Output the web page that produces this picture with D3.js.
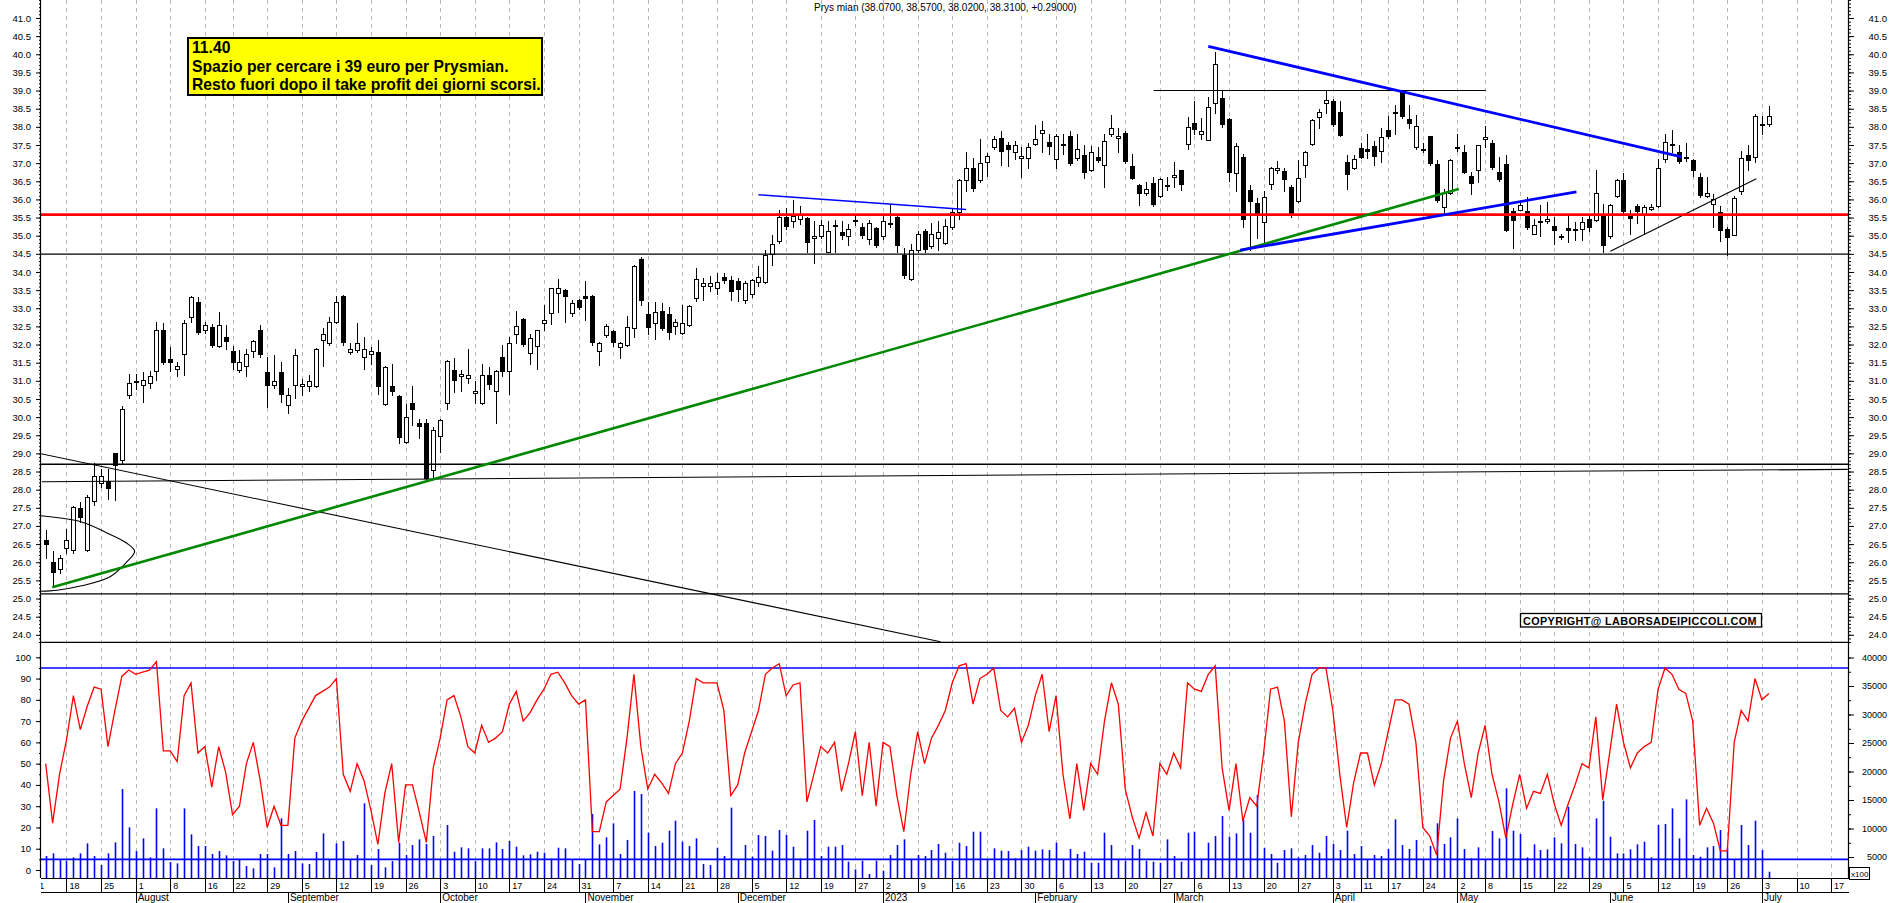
<!DOCTYPE html>
<html><head><meta charset="utf-8">
<script src="https://cdn.jsdelivr.net/npm/d3@7"></script>
<style>
body{margin:0;background:#fff;}
svg{display:block;background:#fff;}
text{font-family:"Liberation Sans",Arial,sans-serif;}
</style>
</head><body>
<svg id="chart" width="1890" height="903"></svg>
<script>
// ---------------- DATA ----------------
const titleText = "Prys mian (38.0700, 38.5700, 38.0200, 38.3100, +0.29000)";
const noteLines = ["11.40","Spazio per cercare i 39 euro per Prysmian.","Resto fuori dopo il take profit dei giorni scorsi."];
const copyrightText = "COPYRIGHT@ LABORSADEIPICCOLI.COM";

const opens = [26.6,26.0,25.81,26.39,26.34,27.49,26.34,27.69,28.18,28.25, 29.0,28.82,30.62,31.0,30.88,30.94,31.27,32.41,31.61,31.33, 31.75,32.77,33.17,32.41,32.47,31.96,32.2,31.81,31.29,31.41, 31.81,32.41,31.23,30.88,31.23,30.34,30.88,30.86,30.85,30.85, 32.13,32.04,32.62,33.34,31.79,31.85,31.66,31.73,31.79,30.36, 30.85,30.57,29.32,30.38,29.84,29.84,28.54,29.49,30.38,31.29, 31.17,31.08,30.71,30.38,31.17,30.73,31.66,31.27,32.28,32.71, 31.78,31.96,32.6,32.86,33.41,33.49,32.86,33.23,33.35,33.34, 31.81,32.25,32.37,31.93,31.98,32.45,34.36,32.85,32.59,32.93, 32.85,32.51,32.33,32.53,33.29,33.61,33.61,33.55,33.87,33.79, 33.75,33.24,33.38,33.71,33.73,34.5,34.85,35.52,35.4,35.47, 35.49,34.97,35.0,34.56,35.29,35.1,35.0,35.43,35.23,34.91, 35.21,34.98,35.35,35.52,34.48,33.82,34.6,35.13,34.71,34.95, 34.79,35.23,35.64,36.53,36.86,36.53,37.03,37.44,37.69,37.5, 37.3,37.17,37.15,37.53,37.84,37.58,37.11,37.54,37.75,37.15, 37.23,36.8,37.17,36.95,37.81,37.72,37.84,36.92,36.4,36.18, 36.45,36.1,36.41,36.63,36.8,37.53,38.11,37.81,37.65,38.66, 38.8,38.22,36.74,37.18,36.25,35.9,35.37,36.42,36.86,36.78, 36.34,35.95,36.95,37.53,38.27,38.66,38.7,38.42,37.03,36.86, 37.41,37.38,37.46,37.34,37.9,38.42,38.97,38.22,37.44,37.39, 37.75,36.97,35.79,36.18,37.45,37.32,36.65,36.8,37.67,37.55, 36.76,36.97,35.67,35.72,35.67,35.06,35.41,35.44,35.27,35.0, 35.21,35.19,35.18,35.47,35.44,35.6,34.98,36.1,36.53,35.58, 35.81,35.6,35.74,35.81,37.11,37.53,37.3,37.16,37.09,36.63, 36.1,35.87,35.64,35.18,35.03,36.22,37.23,37.18,38.07,38.07];
const highs = [26.9,26.32,26.2,26.92,27.55,27.67,27.85,28.74,28.56,28.56, 29.02,30.3,31.2,31.2,31.23,31.27,32.62,32.6,31.93,31.52, 32.68,33.35,33.32,32.62,32.57,32.9,32.53,31.96,31.85,31.87, 32.13,32.53,31.66,31.7,31.52,30.8,31.87,31.06,31.17,31.9, 32.45,32.77,33.34,33.36,32.04,32.59,32.22,31.93,32.13,31.4, 31.46,30.62,30.36,30.85,29.95,29.95,29.72,29.95,31.58,31.64, 31.29,31.87,31.0,31.46,31.38,31.29,32.0,32.22,32.92,32.74, 32.28,32.4,33.09,33.56,33.82,33.52,33.24,33.25,33.75,33.36, 32.08,32.57,32.4,32.08,32.8,34.2,34.42,33.17,33.17,33.15, 33.03,32.7,33.09,33.09,34.1,33.84,33.9,33.98,33.98,33.9, 33.84,33.75,33.82,34.17,34.6,35.02,35.7,35.76,35.99,35.81, 35.52,35.41,35.44,35.41,35.44,35.41,35.33,35.6,35.35,35.44, 35.23,35.58,35.87,35.55,34.65,34.77,35.14,35.18,35.35,35.41, 35.46,35.76,36.57,37.32,37.15,37.67,37.27,37.76,37.88,37.58, 37.61,37.44,37.55,38.04,38.16,37.79,37.81,37.81,37.88,37.81, 37.5,37.47,37.44,37.79,38.34,37.96,37.88,37.26,36.42,36.49, 36.63,36.6,36.63,37.03,36.82,38.27,38.71,38.25,38.83,40.05, 39.0,38.25,37.56,37.26,36.39,36.05,36.22,36.88,37.05,36.86, 36.39,37.08,37.34,38.22,38.5,39.0,38.78,38.72,37.23,37.23, 37.55,37.79,37.61,37.96,38.3,38.6,39.0,38.6,38.34,37.55, 37.76,37.09,36.28,37.11,37.79,37.5,36.76,37.5,38.02,37.65, 37.18,37.23,35.76,35.93,36.07,35.47,35.84,35.93,35.52,35.06, 35.55,35.37,35.52,35.58,36.8,35.87,35.87,36.57,36.74,35.7, 35.87,35.84,35.87,37.11,37.81,37.9,37.5,37.55,37.11,36.74, 36.63,36.16,35.81,35.23,36.1,37.34,37.5,38.36,38.3,38.57];
const lows = [26.13,25.32,25.7,26.25,26.25,27.1,26.3,27.58,28.08,27.75, 27.72,28.74,30.54,30.77,30.42,30.8,31.03,31.45,31.27,31.12, 31.17,32.62,32.3,32.33,31.94,31.94,31.87,31.33,31.23,31.12, 31.66,31.66,30.27,30.8,30.42,30.1,30.54,30.62,30.72,30.84, 31.41,32.0,32.58,32.0,31.75,31.8,31.33,31.45,30.65,30.34, 30.6,29.29,29.3,29.78,29.43,28.27,28.33,29.03,30.22,30.69, 30.73,30.94,30.38,30.36,30.77,29.84,31.12,30.65,32.04,31.96, 31.46,31.33,32.39,32.57,32.91,32.62,32.8,32.98,32.68,32.0, 31.43,32.2,31.96,31.63,31.96,32.22,33.1,32.28,32.16,32.39, 32.16,32.28,32.28,32.5,33.2,33.24,33.47,33.38,33.7,33.24, 33.2,33.15,33.32,33.61,33.7,34.19,34.8,35.18,35.23,35.33, 34.56,34.24,34.94,34.54,34.54,34.9,34.73,35.29,34.94,34.77, 34.68,34.91,35.23,34.54,33.84,33.79,34.56,34.54,34.65,34.6, 34.77,35.18,35.46,36.22,36.22,36.49,36.64,37.38,36.95,36.92, 37.11,36.63,36.86,37.5,37.3,37.26,36.86,37.26,36.95,37.09, 36.6,36.77,37.03,36.34,37.76,37.32,37.0,36.55,35.84,36.13, 35.81,36.07,36.26,36.34,36.26,37.38,37.81,37.67,37.64,38.37, 38.0,36.51,36.22,35.23,34.6,34.95,34.77,36.28,36.72,36.22, 35.52,35.93,36.63,37.5,37.96,38.37,38.02,37.74,36.28,36.83, 37.13,37.13,36.95,37.03,37.69,37.79,38.25,37.96,37.38,37.32, 36.95,35.93,35.64,36.16,37.34,36.72,36.16,36.49,37.44,36.84, 36.51,35.12,34.65,35.7,35.18,35.04,35.0,35.35,34.77,34.9, 34.83,34.88,34.88,35.12,35.41,34.54,34.95,36.07,35.62,35.06, 35.35,35.06,35.7,35.79,37.03,37.3,37.0,37.06,36.65,36.07, 36.07,35.23,34.86,34.48,35.02,36.14,36.8,37.03,37.79,38.02];
const closes = [26.48,25.7,26.13,26.61,27.52,27.21,27.81,28.39,28.37,28.02, 28.66,30.21,30.94,30.95,31.01,31.12,32.41,31.5,31.5,31.41, 32.6,33.3,32.33,32.54,31.96,32.53,32.08,31.5,31.52,31.75, 32.1,31.7,30.85,31.0,30.62,30.62,31.7,30.92,31.0,31.87, 32.28,32.62,33.17,32.04,31.87,32.04,31.89,31.81,30.83,31.38, 30.69,29.43,30.01,30.19,29.72,28.3,29.64,29.92,31.54,31.0, 31.2,31.17,30.73,31.17,30.88,31.27,31.23,32.04,32.5,32.0, 32.18,32.39,32.67,33.55,33.55,33.32,33.15,33.0,33.26,32.04, 32.04,32.5,32.04,32.04,32.47,34.16,33.2,32.45,32.91,32.43, 32.31,32.62,32.59,33.05,33.81,33.69,33.69,33.73,33.75,33.44, 33.49,33.69,33.79,33.87,34.48,34.77,35.52,35.23,35.55,35.6, 34.79,35.0,35.29,35.14,35.26,34.98,35.18,35.37,34.98,35.35, 34.71,35.41,35.31,34.71,33.9,34.6,35.04,34.6,35.04,35.1, 35.27,35.64,36.53,36.86,36.28,37.0,37.21,37.67,37.3,37.35, 37.5,37.19,37.44,37.67,37.9,37.44,37.76,37.5,36.97,37.38, 36.74,37.32,37.06,37.61,37.96,37.74,37.03,36.57,36.16,36.3, 35.84,36.57,36.38,36.68,36.39,37.99,37.92,37.88,38.54,39.72, 38.04,36.74,37.47,35.44,35.93,35.6,36.08,36.86,36.87,36.53, 35.58,36.6,37.3,38.19,38.42,38.74,38.04,37.76,36.68,37.11, 37.15,37.32,37.18,37.73,37.73,38.37,38.27,38.08,38.02,37.37, 36.97,35.95,36.18,37.09,37.43,36.74,36.43,37.5,37.73,36.86, 36.53,35.14,35.41,35.84,35.2,35.29,35.35,35.45,35.14,34.95, 35.14,35.17,35.37,35.21,36.18,34.71,35.84,36.53,35.64,35.47, 35.64,35.79,35.79,36.86,37.58,37.5,37.03,37.14,36.77,36.1, 36.18,36.02,35.12,34.95,36.05,37.15,37.06,38.3,38.02,38.31];
const volumes = [5170,5636,4466,4350,4934,5636,7391,5170,3589,5636, 7566,16926,10199,6045,8269,4934,13534,6513,4115,3881, 13534,8971,6923,6923,5519,6045,5285,4291,4642,3413, 3004,5519,5519,3179,11781,5519,6045,3881,3764,5870, 9146,4583,7391,7800,4583,5344,14411,3589,6396,3179, 4291,7508,5344,7098,8093,7274,8678,4466,10609,5929, 6689,6513,4291,6513,6513,7566,6396,7800,6806,5285, 5461,5929,5753,4700,6630,6513,4583,3764,4642,12539, 7215,8444,10901,5519,8000,16575,16049,9263,6923,7508, 9614,11369,7683,6923,8269,3764,3589,6630,5170,13651, 4466,7098,5051,8854,8678,6104,9731,8854,6806,4700, 9614,11486,5170,6806,6806,7098,4174,2828,4350,2009, 4350,2594,5344,7098,8093,4642,5344,5170,6221,7274, 5753,4350,7508,6923,9438,9438,4700,6513,6104,6045, 4759,6221,6806,6104,6338,6221,7508,4466,6396,5519, 5929,3998,3998,9263,7098,4700,4350,7098,6396,4350, 4174,3998,8093,5170,4174,9263,9438,4700,7508,8678, 12188,8561,9146,11603,9263,15874,6630,5519,3998,6221, 6513,4934,5344,7098,5753,8678,7274,6221,9614,5519, 6923,4466,5344,5170,6396,11603,7098,6396,7976,4466, 6923,10901,7274,8444,11781,6396,4759,6689,4583,9556, 8269,17044,9614,9029,4934,7215,6221,6338,8444,7391, 13826,7274,6689,4934,11781,14879,8561,5636,5636,6338, 7215,7683,4934,10609,10784,13534,8269,15113,5344,5051, 6689,6923,9731,6513,4466,10609,7098,11369,6221,2419];
const oscillator = [50,22,45,61,82,66,77,86,85,58, 75,91,94,92,93,94,98,56,56,51, 82,88,55,58,39,58,46,26,30,50, 60,42,20,30,21,21,62,70,76,82, 84,86,90,45,37,50,42,28,12,36, 50,13,40,40,27,13,48,62,80,82, 72,58,55,68,60,62,65,78,84,70, 74,80,85,92,93,88,82,78,80,18, 18,32,35,38,62,92,58,38,45,41, 36,50,55,70,90,88,88,88,75,35, 40,55,65,75,92,95,97,82,87,88, 32,45,58,55,60,37,50,65,35,60, 30,60,58,35,18,45,65,50,62,68, 75,88,96,97,78,90,92,95,75,72, 76,60,68,82,92,65,82,45,24,50, 28,50,45,70,88,78,38,25,15,27, 16,50,45,55,48,88,85,84,92,96, 48,28,50,23,34,30,55,85,86,70, 25,60,78,92,95,95,75,45,20,41, 55,55,40,50,65,80,80,78,60,20, 16,7,42,62,70,50,34,55,68,45, 32,15,31,45,29,37,36,45,31,21, 31,40,50,48,72,33,55,78,60,48, 55,58,60,85,95,92,85,83,70,21, 29,22,9,9,60,75,70,90,80,83];
const oscLevels = [95, 5];

// weekly tick labels (trading-day index, day of month)
const weekIndex = [-2,3,8,13,18,23,27,32,37,42,47,52,57,62,67,72,77,82,87,92,97,102,107,112,117,121,126,131,136,141,146,151,156,161,166,171,176,181,186,190,194,199,204,208,213,218,223,228,233,238,243,248,253,258];
const weekLabels = ["11","18","25","1","8","16","22","29","5","12","19","26","3","10","17","24","31","7","14","21","28","5","12","19","27","2","9","16","23","30","6","13","20","27","6","13","20","27","3","11","17","24","2","8","15","22","29","5","12","19","26","3","10","17"];
const monthIndex = [13,35,57,78,100,121,143,163,186,204,226,248];
const monthLabels = ["August","September","October","November","December","2023","February","March","April","May","June","July"];

// horizontal levels (price)
const redLevel = 35.58;
const blackLevels = [34.49, 28.70, 25.13, 23.79];
// trend lines: [index1, price1, index2, price2]
const slopedLevel = [-0.53, 28.22, 260.4, 28.56];
const greenTrend = [0.94, 25.31, 204.2, 36.29];
const blackDownTrend = [-0.71, 28.99, 129.3, 23.81];
const blueDownTrend = [168.0, 40.22, 236.4, 37.17];
const blueUpTrend = [172.6, 34.6, 221.2, 36.21];
const blueThinTrend = [103.0, 36.13, 133.0, 35.72];
const blackTopSegment = [160.1, 39.0, 208.1, 39.0];
const blackJuneTrend = [226.1, 34.57, 247.2, 36.57];
const arcPoints = [[-0.71,27.28],[5.19,27.11],[8.71,26.82],[11.68,26.53],[12.85,26.3],[11.68,26.0],[9.3,25.6],[5.19,25.35],[1.63,25.23],[-0.71,25.2]];

const priceTicks = d3.range(48, 83).map(v => v / 2);        // 24.0 .. 41.0
const priceMinor = d3.range(238, 416).map(v => v / 10);
const oscTicks = d3.range(0, 101, 10);
const oscMinor = d3.range(0, 101, 5);
const volTicks = d3.range(5000, 40001, 5000);
const volMinor = d3.range(2500, 40001, 2500);

// ---------------- LAYOUT ----------------
const svg = d3.select('#chart');
const AX_L = 41, AX_R = 1849;
const P_BOT = 643, O_TOP = 643, O_BOT = 878;
const FONT = '"Liberation Sans",Arial,sans-serif';

const x = d3.scaleLinear().domain([0, 248]).range([45.7, 1761.9]);
const yP = d3.scaleLinear().domain([41, 24]).range([18, 634.8]);
const yO = d3.scaleLinear().domain([0, 100]).range([870, 657.3]);
const yV = d3.scaleLinear().domain([5000, 40000]).range([857, 657.5]);

const defs = svg.append('defs');
defs.append('clipPath').attr('id','clipP').append('rect').attr('x',AX_L).attr('y',0).attr('width',AX_R-AX_L).attr('height',P_BOT);
defs.append('clipPath').attr('id','clipO').append('rect').attr('x',AX_L).attr('y',O_TOP).attr('width',AX_R-AX_L).attr('height',O_BOT-O_TOP);
defs.append('clipPath').attr('id','clipX').append('rect').attr('x',AX_L).attr('y',O_BOT).attr('width',AX_R-AX_L).attr('height',30);

const px = v => Math.round(v) + 0.5;

// dashed weekly gridlines
svg.append('g').selectAll('line').data(weekIndex.filter(i => i >= 0)).join('line')
  .attr('x1', d => px(x(d))).attr('x2', d => px(x(d)))
  .attr('y1', 0).attr('y2', O_BOT)
  .attr('stroke', '#b8b8b8').attr('stroke-width', 1).attr('stroke-dasharray', '4,4');

// ---------- price panel ----------
const gP = svg.append('g').attr('clip-path','url(#clipP)');
const idx = d3.range(opens.length);

// candles
const cg = gP.append('g');
cg.selectAll('line.wick').data(idx).join('line').attr('class','wick')
  .attr('x1', i => px(x(i))).attr('x2', i => px(x(i)))
  .attr('y1', i => Math.round(yP(highs[i]))).attr('y2', i => Math.round(yP(lows[i])) + 1)
  .attr('stroke', '#000').attr('stroke-width', 1).attr('shape-rendering','crispEdges');
cg.selectAll('rect.body').data(idx).join('rect').attr('class','body')
  .each(function(i){
    const up = closes[i] >= opens[i];
    const top = Math.round(yP(Math.max(opens[i], closes[i])));
    const bot = Math.round(yP(Math.min(opens[i], closes[i])));
    const cx = Math.round(x(i));
    const h = Math.max(bot - top, 1);
    const s = d3.select(this).attr('shape-rendering','crispEdges');
    if (up) {
      s.attr('x', cx - 2 + 0.5).attr('y', top + 0.5).attr('width', 4).attr('height', Math.max(h,2))
       .attr('fill', '#fff').attr('stroke', '#000').attr('stroke-width', 1);
    } else {
      s.attr('x', cx - 2).attr('y', top).attr('width', 5).attr('height', Math.max(h,2)).attr('fill', '#000');
    }
  });

// level lines
const xl = x.invert(AX_L), xr = x.invert(AX_R);
const seg = (g, s, color, w) => g.append('line')
  .attr('x1', x(s[0])).attr('y1', yP(s[1])).attr('x2', x(s[2])).attr('y2', yP(s[3]))
  .attr('stroke', color).attr('stroke-width', w);

blackLevels.forEach(p => seg(gP, [xl, p, xr, p], '#000', 1.3));
seg(gP, slopedLevel, '#000', 1.1);
seg(gP, blackDownTrend, '#000', 1.1);
seg(gP, blackTopSegment, '#000', 1.1);
seg(gP, blackJuneTrend, '#000', 1.1);
gP.append('path').datum(arcPoints)
  .attr('d', d3.line().x(d => x(d[0])).y(d => yP(d[1])).curve(d3.curveCatmullRom.alpha(0.5)))
  .attr('fill','none').attr('stroke','#000').attr('stroke-width',1.1);
seg(gP, [xl, redLevel, xr, redLevel], '#ff0000', 2.6);
seg(gP, greenTrend, '#008800', 2.6);
seg(gP, blueThinTrend, '#0000ff', 1.4);
seg(gP, blueDownTrend, '#0000ff', 2.8);
seg(gP, blueUpTrend, '#0000ff', 2.8);

// ---------- oscillator / volume panel ----------
const gO = svg.append('g').attr('clip-path','url(#clipO)');
gO.selectAll('line.vol').data(idx).join('line').attr('class','vol')
  .attr('x1', i => px(x(i))).attr('x2', i => px(x(i)))
  .attr('y1', i => yV(volumes[i])).attr('y2', O_BOT)
  .attr('stroke', '#0000ff').attr('stroke-width', 1.6);
oscLevels.forEach(l => gO.append('line')
  .attr('x1', AX_L).attr('x2', AX_R).attr('y1', yO(l)).attr('y2', yO(l))
  .attr('stroke', '#0000ff').attr('stroke-width', 1.6));
gO.append('path').datum(oscillator)
  .attr('d', d3.line().x((d,i) => x(i)).y(d => yO(d)))
  .attr('fill','none').attr('stroke','#ff0000').attr('stroke-width',1.3);

// ---------- axes ----------
function styleAxis(g, size){
  g.select('.domain').remove();
  g.attr('font-family', FONT).attr('font-size', size);
  g.selectAll('text').attr('fill', '#000');
}
// left price
svg.append('g').attr('transform',`translate(${AX_L},0)`)
  .call(d3.axisLeft(yP).tickValues(priceMinor).tickSize(2).tickFormat(''))
  .call(g => styleAxis(g, 9.5));
svg.append('g').attr('transform',`translate(${AX_L},0)`)
  .call(d3.axisLeft(yP).tickValues(priceTicks).tickSize(5).tickPadding(5).tickFormat(d3.format('.1f')))
  .call(g => styleAxis(g, 9.5));
// right price
svg.append('g').attr('transform',`translate(${AX_R},0)`)
  .call(d3.axisRight(yP).tickValues(priceMinor).tickSize(2).tickFormat(''))
  .call(g => styleAxis(g, 9.5));
svg.append('g').attr('transform',`translate(${AX_R},0)`)
  .call(d3.axisRight(yP).tickValues(priceTicks).tickSize(5).tickFormat(d3.format('.1f')))
  .call(g => { styleAxis(g, 9.5); g.selectAll('text').attr('text-anchor','end').attr('x', 38); });
// left oscillator
svg.append('g').attr('transform',`translate(${AX_L},0)`)
  .call(d3.axisLeft(yO).tickValues(oscMinor).tickSize(2).tickFormat(''))
  .call(g => styleAxis(g, 9.5));
svg.append('g').attr('transform',`translate(${AX_L},0)`)
  .call(d3.axisLeft(yO).tickValues(oscTicks).tickSize(5).tickPadding(5))
  .call(g => styleAxis(g, 9.5));
// right volume
svg.append('g').attr('transform',`translate(${AX_R},0)`)
  .call(d3.axisRight(yV).tickValues(volMinor).tickSize(2).tickFormat(''))
  .call(g => styleAxis(g, 9));
svg.append('g').attr('transform',`translate(${AX_R},0)`)
  .call(d3.axisRight(yV).tickValues(volTicks).tickSize(5).tickFormat(d3.format('d')))
  .call(g => { styleAxis(g, 9); g.selectAll('text').attr('text-anchor','end').attr('x', 38); });

// axis lines
svg.append('line').attr('x1',px(AX_L)-1).attr('x2',px(AX_L)-1).attr('y1',0).attr('y2',O_BOT).attr('stroke','#000').attr('stroke-width',1.2);
svg.append('line').attr('x1',px(AX_R)-1).attr('x2',px(AX_R)-1).attr('y1',0).attr('y2',O_BOT).attr('stroke','#000').attr('stroke-width',1.2);

// x100 box
svg.append('rect').attr('x',AX_R+0.5).attr('y',867.5).attr('width',20).attr('height',12).attr('fill','#fff').attr('stroke','#000').attr('stroke-width',1);
svg.append('text').attr('x',AX_R+2).attr('y',876.5).attr('font-family',FONT).attr('font-size',8).text('x100');

// ---------- time axis ----------
const gX = svg.append('g');
gX.append('line').attr('x1',AX_L).attr('x2',AX_R).attr('y1',878.5).attr('y2',878.5).attr('stroke','#000');
gX.append('line').attr('x1',AX_L).attr('x2',AX_R).attr('y1',892.5).attr('y2',892.5).attr('stroke','#000');
const gXc = gX.append('g').attr('clip-path','url(#clipX)');
gXc.selectAll('line.wt').data(weekIndex).join('line').attr('class','wt')
  .attr('x1', d => px(x(d))).attr('x2', d => px(x(d))).attr('y1', 878).attr('y2', 892)
  .attr('stroke','#000');
gXc.selectAll('text.wl').data(weekIndex).join('text').attr('class','wl')
  .attr('x', d => x(d) + 3).attr('y', 889)
  .attr('font-family',FONT).attr('font-size',9).attr('fill','#000')
  .text((d,i) => weekLabels[i]);
gXc.selectAll('line.mt').data(monthIndex).join('line').attr('class','mt')
  .attr('x1', d => px(x(d))).attr('x2', d => px(x(d))).attr('y1', 892).attr('y2', 903)
  .attr('stroke','#000');
gXc.selectAll('text.ml').data(monthIndex).join('text').attr('class','ml')
  .attr('x', d => x(d) + 2).attr('y', 901)
  .attr('font-family',FONT).attr('font-size',10).attr('fill','#000')
  .text((d,i) => monthLabels[i]);

// ---------- annotations ----------
svg.append('text').attr('x', 814).attr('y', 11).attr('font-family',FONT).attr('font-size',10).attr('fill','#000').text(titleText);

const box = svg.append('g');
box.append('rect').attr('x',188).attr('y',38).attr('width',354).attr('height',57)
  .attr('fill','#ffff00').attr('stroke','#000').attr('stroke-width',2);
box.selectAll('text').data(noteLines).join('text')
  .attr('x', 192).attr('y', (d,i) => 53 + i*18.7)
  .attr('font-family',FONT).attr('font-weight','bold').attr('font-size',15.7).attr('fill','#000')
  .text(d => d);

const cp = svg.append('g');
cp.append('rect').attr('x',1520.5).attr('y',613.5).attr('width',241).attr('height',13.5)
  .attr('fill','#fff').attr('stroke','#000').attr('stroke-width',1.3);
cp.append('text').attr('x',1523).attr('y',624.5).attr('font-family',FONT).attr('font-weight','bold')
  .attr('font-size',10.8).attr('letter-spacing',0.4).attr('fill','#000').text(copyrightText);
</script>
</body></html>
